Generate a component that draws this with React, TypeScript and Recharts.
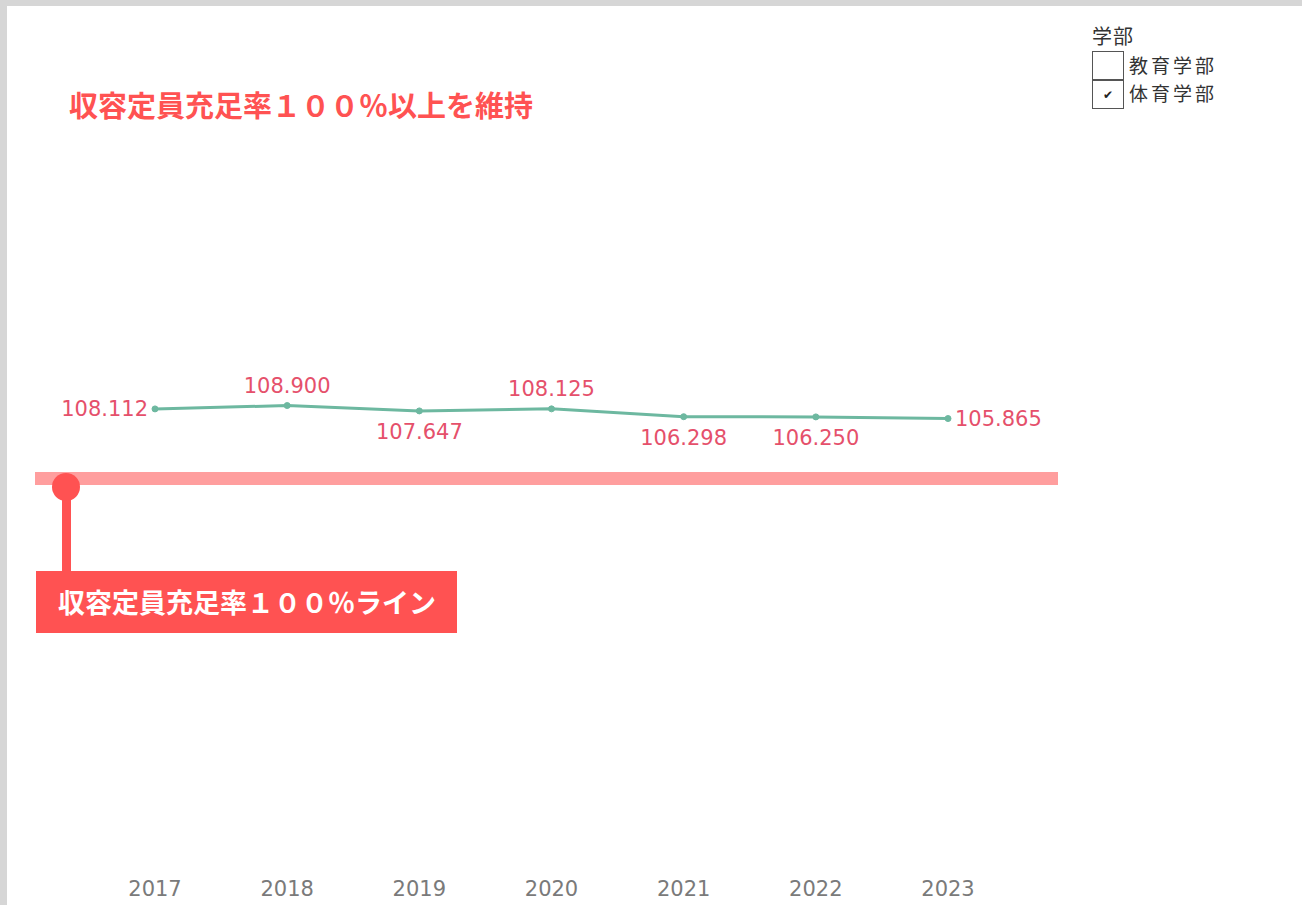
import React from "react";
import { LineChart, Line, XAxis, YAxis, LabelList } from "recharts";

const years = ["2017", "2018", "2019", "2020", "2021", "2022", "2023"];
const rates = [108.112, 108.9, 107.647, 108.125, 106.298, 106.25, 105.865];
const labelPlacement = ["left", "top", "bottom", "top", "bottom", "bottom", "right"];
const legendTitle = "学部";
const legendItems = ["教育学部", "体育学部"];
const legendChecked = [false, true];
const titleText = "収容定員充足率１００％以上を維持";
const lineLabelText = "収容定員充足率１００％ライン";

const data = years.map((y, i) => ({ year: y, rate: rates[i] }));

const LABEL_COLOR = "#e5506b";
const RED = "#ff5252";

const ValueLabel = (props: any) => {
  const { x, y, value, index } = props;
  const pos = labelPlacement[index];
  const txt = Number(value).toFixed(3);
  let tx = x;
  let ty = y;
  let anchor: "start" | "middle" | "end" = "middle";
  if (pos === "left") {
    tx = x - 7;
    anchor = "end";
  } else if (pos === "right") {
    tx = x + 7;
    anchor = "start";
  } else if (pos === "top") {
    ty = y - 20;
  } else {
    ty = y + 21;
  }
  return (
    <text
      x={tx}
      y={ty}
      textAnchor={anchor}
      dominantBaseline="central"
      fill={LABEL_COLOR}
      fontSize={21}
      fontFamily="'DejaVu Sans', sans-serif"
    >
      {txt}
    </text>
  );
};

const YearTick = (props: any) => {
  const { x, payload } = props;
  return (
    <text
      x={x}
      y={889}
      dominantBaseline="central"
      textAnchor="middle"
      fill="#7a7a7a"
      fontSize={21}
      fontFamily="'DejaVu Sans', sans-serif"
    >
      {payload.value}
    </text>
  );
};

export default function App() {
  return (
    <div
      style={{
        position: "absolute",
        left: 0,
        top: 0,
        width: 1302,
        height: 905,
        background: "#ffffff",
        overflow: "hidden",
        fontFamily: "'Noto Sans CJK JP', sans-serif",
      }}
    >
      <div style={{ position: "absolute", left: 0, top: 0, width: 1302, height: 6, background: "#d6d6d6" }} />
      <div style={{ position: "absolute", left: 0, top: 0, width: 7, height: 905, background: "#d6d6d6" }} />

      <LineChart
        width={1302}
        height={905}
        data={data}
        margin={{ top: 358, right: 354, bottom: 0, left: 155 }}
        style={{ position: "absolute", left: 0, top: 0 }}
      >
        <XAxis
          dataKey="year"
          height={33}
          axisLine={false}
          tickLine={false}
          tick={<YearTick />}
        />
        <YAxis hide domain={[0, 120]} />
        <Line
          type="linear"
          dataKey="rate"
          stroke="#6db8a0"
          strokeWidth={3}
          dot={{ r: 3, fill: "#6db8a0", stroke: "#6db8a0", strokeWidth: 1 }}
          isAnimationActive={false}
        >
          <LabelList dataKey="rate" content={<ValueLabel />} />
        </Line>
      </LineChart>

      <div
        style={{
          position: "absolute",
          left: 69,
          top: 88,
          fontSize: 29,
          lineHeight: "32px",
          fontWeight: 700,
          color: RED,
          whiteSpace: "nowrap",
        }}
      >
        {titleText}
      </div>

      {/* 100% line annotation */}
      <div style={{ position: "absolute", left: 35, top: 472, width: 1023, height: 13, background: "#ff9e9e" }} />
      <div style={{ position: "absolute", left: 62, top: 487, width: 9, height: 86, background: RED }} />
      <div style={{ position: "absolute", left: 52, top: 473, width: 28, height: 28, borderRadius: 14, background: RED }} />
      <div
        style={{
          position: "absolute",
          left: 36,
          top: 571,
          width: 421,
          height: 62,
          background: RED,
          color: "#ffffff",
          fontWeight: 700,
          fontSize: 27,
          lineHeight: "62px",
          paddingLeft: 22,
          boxSizing: "border-box",
          whiteSpace: "nowrap",
        }}
      >
        {lineLabelText}
      </div>

      {/* legend */}
      <div style={{ position: "absolute", left: 1092, top: 24, fontSize: 20, lineHeight: "24px", letterSpacing: 1, color: "#333333" }}>
        {legendTitle}
      </div>
      {legendItems.map((name, i) => (
        <div key={name} style={{ position: "absolute", left: 1092, top: 51 + i * 28, height: 29 }}>
          <div
            style={{
              position: "absolute",
              left: 0,
              top: 0,
              width: 30,
              height: 28,
              border: "1px solid #555555",
              fontSize: 12,
              lineHeight: "28px",
              textAlign: "center",
              color: "#222222",
            }}
          >
            {legendChecked[i] ? "✔" : ""}
          </div>
          <div
            style={{
              position: "absolute",
              left: 37,
              top: 2,
              fontSize: 19,
              lineHeight: "24px",
              letterSpacing: 3,
              color: "#333333",
              whiteSpace: "nowrap",
            }}
          >
            {name}
          </div>
        </div>
      ))}
    </div>
  );
}
